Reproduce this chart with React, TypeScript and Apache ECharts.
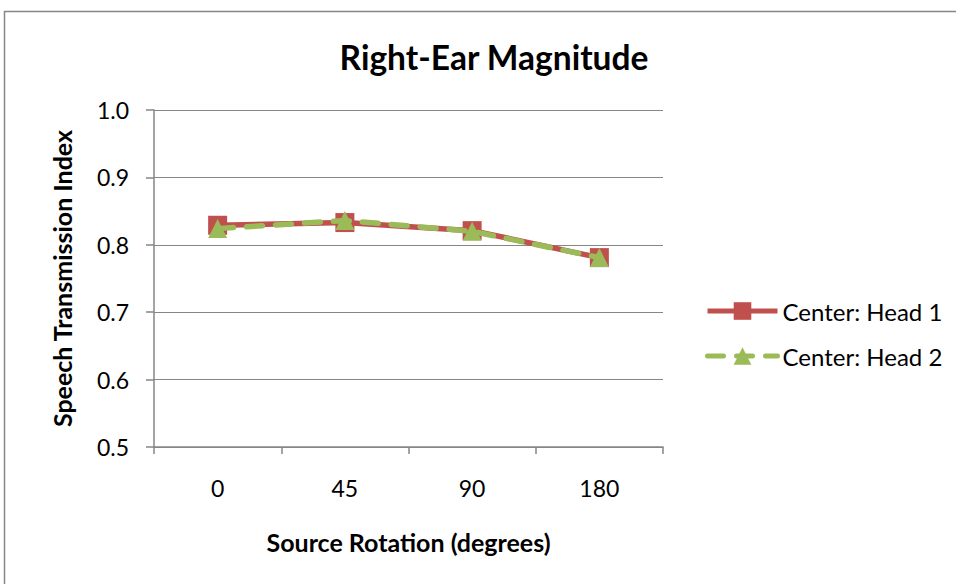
import React, { useEffect, useRef } from "react";
import * as echarts from "echarts";

const categories = ["0", "45", "90", "180"];
const head1 = [0.829, 0.833, 0.821, 0.781];
const head2 = [0.824, 0.836, 0.820, 0.781];
const seriesNames = ["Center: Head 1", "Center: Head 2"];
const titleText = "Right-Ear Magnitude";
const xName = "Source Rotation (degrees)";
const yName = "Speech Transmission Index";

const FONT = "Lato, 'Open Sans', sans-serif";

export default function App() {
  const ref = useRef<HTMLDivElement>(null);
  useEffect(() => {
    document.body.style.margin = "0";
    const chart = echarts.init(ref.current!, undefined, { renderer: "svg" });
    chart.setOption({
      animation: false,
      backgroundColor: "#ffffff",
      textStyle: { fontFamily: FONT },
      graphic: [
        {
          type: "rect",
          shape: { x: 4.5, y: 11.5, width: 1000, height: 1000 },
          style: { fill: "none", stroke: "#868686", lineWidth: 1.5 },
          silent: true,
          z: -1,
        },
      ],
      title: {
        text: titleText,
        left: 489,
        textAlign: "center",
        top: 35,
        textStyle: { fontFamily: FONT, fontWeight: "bold", fontSize: 33.5, color: "#000" },
      },
      grid: { left: 154, right: 293, top: 110, bottom: 137, containLabel: false },
      legend: {
        orient: "vertical",
        left: 700,
        top: 294,
        itemWidth: 70,
        itemHeight: 22,
        itemGap: 21,
        data: seriesNames,
        lineStyle: { width: 5 },
        textStyle: { fontFamily: FONT, fontSize: 24, color: "#000", padding: [0, 0, 0, 0] },
      },
      xAxis: {
        type: "category",
        data: categories,
        boundaryGap: true,
        axisLine: { lineStyle: { color: "#868686", width: 1.5 } },
        axisTick: { show: true, length: 7, interval: 0, lineStyle: { color: "#868686", width: 1.5 } },
        axisLabel: { fontFamily: FONT, fontSize: 23, color: "#000", margin: 29 },
        name: xName,
        nameLocation: "middle",
        nameGap: 82,
        nameTextStyle: { fontFamily: FONT, fontSize: 25, fontWeight: "bold", color: "#000", verticalAlign: "top" },
      },
      yAxis: {
        type: "value",
        min: 0.5,
        max: 1.0,
        interval: 0.1,
        axisLine: { show: true, lineStyle: { color: "#868686", width: 1.5 } },
        axisTick: { show: true, length: 8, lineStyle: { color: "#868686", width: 1.5 } },
        splitLine: { show: true, lineStyle: { color: "#868686", width: 1 } },
        axisLabel: {
          fontFamily: FONT,
          fontSize: 23,
          color: "#000",
          margin: 25,
          formatter: (v: number) => v.toFixed(1),
        },
        name: yName,
        nameLocation: "middle",
        nameGap: 80,
        nameTextStyle: { fontFamily: FONT, fontSize: 25, fontWeight: "bold", color: "#000" },
      },
      series: [
        {
          name: seriesNames[0],
          type: "line",
          data: head1,
          symbol: "rect",
          symbolSize: 19,
          itemStyle: { color: "#C0504D" },
          lineStyle: { color: "#C0504D", width: 5.5 },
          z: 2,
        },
        {
          name: seriesNames[1],
          type: "line",
          data: head2,
          symbol: "triangle",
          symbolSize: 19,
          itemStyle: { color: "#9BBB59" },
          lineStyle: { color: "#9BBB59", width: 5.5, type: [16, 13], cap: "round" },
          z: 3,
        },
      ],
    });
    return () => chart.dispose();
  }, []);
  return <div ref={ref} style={{ width: 956, height: 584, position: "absolute", left: 0, top: 0 }} />;
}
